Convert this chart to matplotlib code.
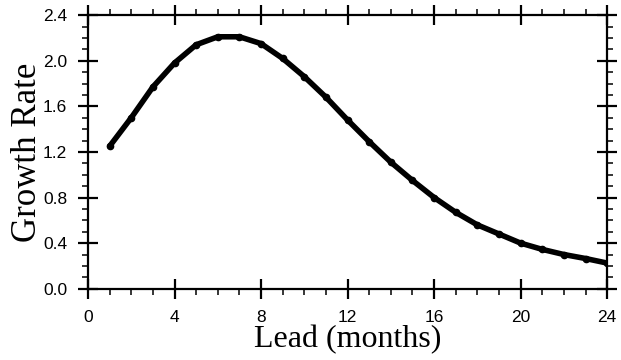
import matplotlib

matplotlib.use("Agg")
import matplotlib.pyplot as plt
from matplotlib.ticker import MultipleLocator

# growth rate vs lead month
lead = list(range(1, 25))
growth = [1.25, 1.50, 1.77, 1.98, 2.14, 2.21, 2.21, 2.15, 2.02, 1.86,
          1.68, 1.48, 1.29, 1.11, 0.95, 0.80, 0.67, 0.56, 0.48, 0.40,
          0.345, 0.30, 0.265, 0.225]
xticks = [0, 4, 8, 12, 16, 20, 24]
yticks = [0.0, 0.4, 0.8, 1.2, 1.6, 2.0, 2.4]

fig = plt.figure(figsize=(6.21, 3.6), dpi=100)
ax = fig.add_axes([0.1417, 0.198, 0.836, 0.760])

ax.plot(lead, growth, "k-", lw=4, marker="o", ms=4.5, solid_capstyle="round")

ax.set_xlim(0, 24)
ax.set_ylim(0, 2.4)
ax.set_xticks(xticks)
ax.set_yticks(yticks)
ax.set_yticklabels([f"{v:.1f}" for v in yticks])
ax.xaxis.set_minor_locator(MultipleLocator(1))
ax.yaxis.set_minor_locator(MultipleLocator(0.1))

for s in ax.spines.values():
    s.set_linewidth(1.6)
ax.tick_params(which="major", direction="inout", length=14, width=1.6,
               top=True, right=True, labelsize=12.5)
ax.tick_params(axis="x", which="major", pad=8.5)
ax.tick_params(axis="y", which="major", pad=8)
ax.tick_params(which="minor", direction="out", length=4.5, width=1.1,
               top=True, right=True)
for lab in ax.get_xticklabels() + ax.get_yticklabels():
    lab.set_family("Liberation Sans")

ax.set_xlabel("Lead (months)", family="Liberation Serif", fontsize=23, labelpad=0)
ax.set_ylabel("Growth Rate", family="Liberation Serif", fontsize=25, labelpad=-1)

fig.savefig("out.png", dpi=100)
